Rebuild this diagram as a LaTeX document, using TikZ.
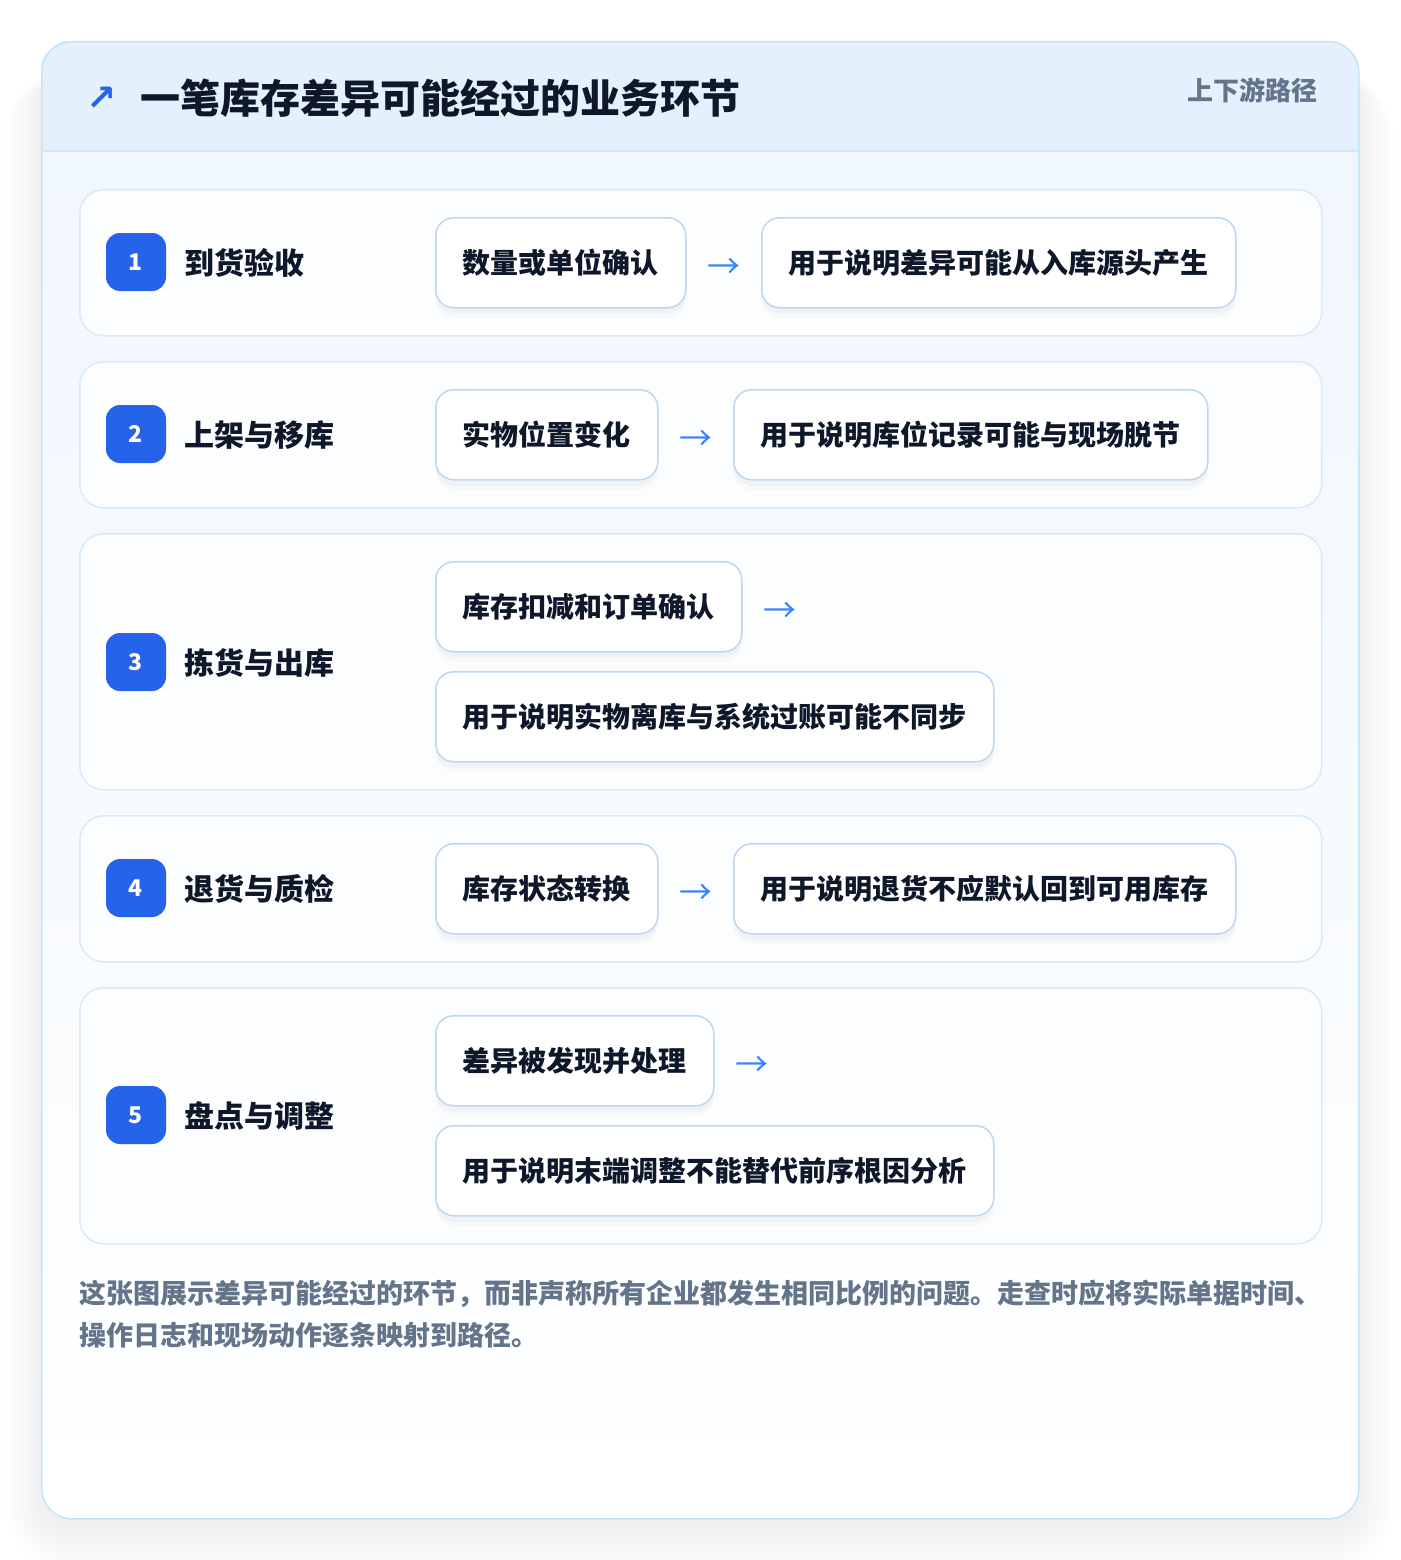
\documentclass[tikz,border=0pt]{standalone}
\usepackage{fontspec}
\setmainfont{Noto Sans CJK SC}
\newfontfamily\symf{DejaVu Sans}
\definecolor{cardb}{HTML}{C4E4F7}
\definecolor{headfill}{HTML}{E4F0FC}
\definecolor{headline}{HTML}{D3E7F8}
\definecolor{rowb}{HTML}{D8EAFB}
\definecolor{rowfill}{HTML}{FCFDFF}
\definecolor{boxb}{HTML}{BCD6F4}
\definecolor{badgeblue}{HTML}{2563EB}
\definecolor{arrowblue}{HTML}{3B82F6}
\definecolor{dark}{HTML}{0F172A}
\definecolor{muted}{HTML}{64748B}
\tikzset{
  rowbox/.style={draw=rowb, line width=1.5pt, fill=rowfill, rounded corners=24pt,
    anchor=north west, minimum width=1242pt, inner sep=0pt},
  itembox/.style={draw=boxb, line width=1.5pt, fill=white, rounded corners=18pt,
    minimum height=90pt, inner sep=0pt, anchor=north west, text=dark,
    font=\fontsize{28}{34}\selectfont\bfseries,
    preaction={fill=black, opacity=0.025, transform canvas={yshift=-6pt}},
    preaction={fill=black, opacity=0.02, transform canvas={yshift=-10pt}}},
  badge/.style={fill=badgeblue, rounded corners=14pt, minimum width=60pt,
    minimum height=58pt, inner sep=0pt, text=white,
    font=\fontsize{23}{24}\selectfont\bfseries},
  steplabel/.style={anchor=west, inner sep=0pt, text=dark,
    font=\fontsize{30}{36}\selectfont\bfseries},
  arr/.style={text=arrowblue, inner sep=0pt, font=\fontsize{33}{33}\selectfont}
}
\begin{document}
\begin{tikzpicture}[x=1pt,y=-1pt]
\useasboundingbox (0,0) rectangle (1400,1560);
\fill[white] (0,0) rectangle (1400,1560);
% card shadow
\foreach \s in {0,3,...,42}{
  \fill[black, opacity=0.0045, rounded corners=30pt+\s pt]
    (41-0.9*\s, 70) rectangle (1358+0.9*\s, 1530+\s);
}
% card
\path[rounded corners=30pt, top color=headfill!60!white, bottom color=white]
  (41,41) rectangle (1358,1518);
\begin{scope}
  \clip[rounded corners=30pt] (41,41) rectangle (1358,1518);
  \fill[headfill] (41,41) rectangle (1358,151);
  \draw[headline, line width=1.5pt] (41,151) -- (1358,151);
\end{scope}
\node[draw=cardb, line width=1.5pt, rounded corners=30pt, anchor=north west,
  minimum width=1317pt, minimum height=1477pt, inner sep=0pt] (card) at (41,41) {};
% header
\node[text=badgeblue, inner sep=0pt, font=\symf\bfseries\fontsize{36}{36}\selectfont] (icon) at (102,99) {↗};
\node[anchor=west, inner sep=0pt, text=dark, font=\fontsize{40}{46}\selectfont\bfseries] (title) at (140,98)
  {一笔库存差异可能经过的业务环节};
\node[anchor=east, inner sep=0pt, text=muted, font=\fontsize{26}{30}\selectfont\bfseries] (tag) at (1318,90)
  {上下游路径};
% rows
\node[rowbox, minimum height=146pt] (r1) at (79,189) {};
\node[rowbox, minimum height=146pt] (r2) at (79,361) {};
\node[rowbox, minimum height=256pt] (r3) at (79,533) {};
\node[rowbox, minimum height=146pt] (r4) at (79,815) {};
\node[rowbox, minimum height=256pt] (r5) at (79,987) {};
% badges and labels
\node[badge] (n1) at (136,262) {1};
\node[steplabel] (l1) at (184,263) {到货验收};
\node[badge] (n2) at (136,434) {2};
\node[steplabel] (l2) at (184,435) {上架与移库};
\node[badge] (n3) at (136,662) {3};
\node[steplabel] (l3) at (184,663) {拣货与出库};
\node[badge] (n4) at (136,888) {4};
\node[steplabel] (l4) at (184,889) {退货与质检};
\node[badge] (n5) at (136,1115) {5};
\node[steplabel] (l5) at (184,1116) {盘点与调整};
% item boxes
\node[itembox, minimum width=250pt] (b11) at (435,217) {数量或单位确认};
\node[arr] (a1) at (724,268) {→};
\node[itembox, minimum width=474pt] (b12) at (761,217) {用于说明差异可能从入库源头产生};
\node[itembox, minimum width=222pt] (b21) at (435,389) {实物位置变化};
\node[arr] (a2) at (696,440) {→};
\node[itembox, minimum width=474pt] (b22) at (733,389) {用于说明库位记录可能与现场脱节};
\node[itembox, minimum width=306pt] (b31) at (435,561) {库存扣减和订单确认};
\node[arr] (a3) at (780,612) {→};
\node[itembox, minimum width=558pt] (b32) at (435,671) {用于说明实物离库与系统过账可能不同步};
\node[itembox, minimum width=222pt] (b41) at (435,843) {库存状态转换};
\node[arr] (a4) at (696,894) {→};
\node[itembox, minimum width=502pt] (b42) at (733,843) {用于说明退货不应默认回到可用库存};
\node[itembox, minimum width=278pt] (b51) at (435,1015) {差异被发现并处理};
\node[arr] (a5) at (752,1066) {→};
\node[itembox, minimum width=558pt] (b52) at (435,1125) {用于说明末端调整不能替代前序根因分析};
% footer
\node[anchor=north west, inner sep=0pt, align=left, text=muted,
  font=\fontsize{27}{42}\selectfont\bfseries] (foot) at (79,1280)
  {这张图展示差异可能经过的环节，而非声称所有企业都发生相同比例的问题。走查时应将实际单据时间、\\操作日志和现场动作逐条映射到路径。};
\end{tikzpicture}
\end{document}
